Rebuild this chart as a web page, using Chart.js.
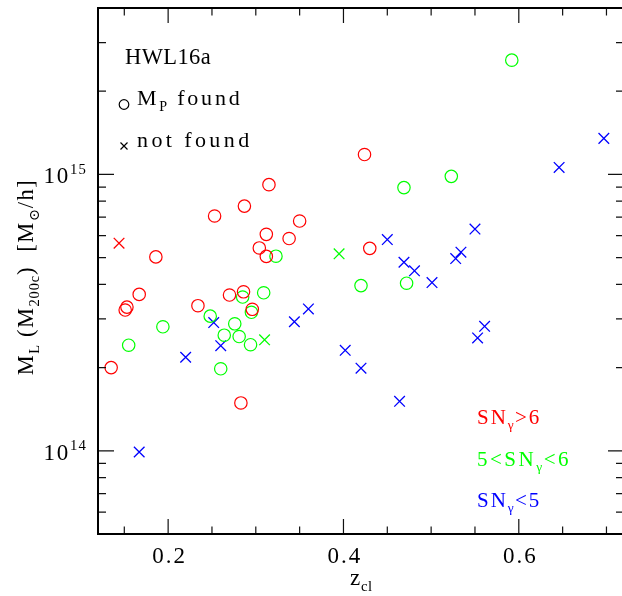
<!DOCTYPE html>
<html>
<head>
<meta charset="utf-8">
<script src="https://cdn.jsdelivr.net/npm/chart.js@4.4.1/dist/chart.umd.min.js"></script>
<style>
  html, body { margin: 0; padding: 0; overflow: hidden; background: #fff; }
  canvas { display: block; }
</style>
</head>
<body>
<canvas id="c" width="624" height="596"></canvas>
<script>
// Cluster redshift z_cl and lensing mass M_L (M_200c, in M_sun/h),
// split by shear S/N class and by whether a peak mass M_P was found.
const zRedFound = [0.135, 0.151, 0.153, 0.167, 0.186, 0.234, 0.253, 0.270, 0.283, 0.287,
                   0.286, 0.296, 0.304, 0.312, 0.312, 0.315, 0.338, 0.350, 0.424, 0.430];
const mRedFound = [2.00e14, 3.23e14, 3.31e14, 3.68e14, 5.03e14, 3.35e14, 7.07e14, 3.66e14, 1.49e14, 7.68e14,
                   3.76e14, 3.25e14, 5.42e14, 6.07e14, 5.05e14, 9.18e14, 5.86e14, 6.78e14, 1.18e15, 5.40e14];
const zRedMissed = [0.144];
const mRedMissed = [5.64e14];

const zGreenFound = [0.155, 0.194, 0.248, 0.264, 0.276, 0.281, 0.294, 0.260, 0.285, 0.295,
                     0.309, 0.323, 0.420, 0.472, 0.469, 0.523, 0.592];
const mGreenFound = [2.41e14, 2.81e14, 3.07e14, 2.62e14, 2.88e14, 2.59e14, 2.42e14, 1.98e14, 3.60e14, 3.17e14,
                     3.73e14, 5.06e14, 3.96e14, 4.04e14, 8.96e14, 9.84e14, 2.59e15];
const zGreenMissed = [0.310, 0.395];
const mGreenMissed = [2.52e14, 5.16e14];

const zBlueMissed = [0.167, 0.220, 0.252, 0.260, 0.344, 0.360, 0.402, 0.420, 0.450, 0.464,
                     0.469, 0.481, 0.501, 0.528, 0.534, 0.550, 0.553, 0.561, 0.646, 0.697];
const mBlueMissed = [9.9e13, 2.18e14, 2.91e14, 2.40e14, 2.93e14, 3.26e14, 2.31e14, 1.99e14, 5.81e14, 1.51e14,
                     4.81e14, 4.48e14, 4.06e14, 4.96e14, 5.23e14, 6.34e14, 2.56e14, 2.82e14, 1.06e15, 1.35e15];

// Axis ticks and their labels
const xMajorTicks = [0.2, 0.4, 0.6];
const xTickLabels = ['0.2', '0.4', '0.6'];
const xMinorTicks = [0.15, 0.25, 0.3, 0.35, 0.45, 0.5, 0.55, 0.65, 0.7];
const yMajorTicks = [1e14, 1e15];
const yTickExponents = ['14', '15'];
const yMinorTicks = [6e13, 7e13, 8e13, 9e13, 2e14, 3e14, 4e14, 5e14, 6e14, 7e14, 8e14, 9e14, 2e15, 3e15];

const RED = '#ff0000', GREEN = '#00ff00', BLUE = '#0000ff';
const FONT = '"Liberation Serif", "DejaVu Serif", serif';

function pts(xs, ys) { return xs.map((x, i) => ({ x: x, y: ys[i] })); }

function circleSet(xs, ys, color) {
  return { data: pts(xs, ys), pointStyle: 'circle', pointRadius: 6.2, pointBorderWidth: 1.2,
           borderColor: color, backgroundColor: 'rgba(0,0,0,0)', showLine: false };
}
function crossSet(xs, ys, color) {
  return { data: pts(xs, ys), pointStyle: 'crossRot', pointRadius: 7.5, pointBorderWidth: 1.3,
           borderColor: color, backgroundColor: color, showLine: false };
}

// Draws a run of text pieces: mode 0 = normal, -1 = subscript, 1 = superscript
function drawRich(ctx, parts, x, y, size, align, spacing) {
  const items = parts.map(([t, m]) => {
    const s = m ? size * 0.64 : size;
    const sp = m ? spacing * 0.6 : spacing;
    ctx.font = s + 'px ' + FONT;
    ctx.letterSpacing = sp + 'px';
    return { t: t, m: m, s: s, sp: sp, w: ctx.measureText(t).width };
  });
  const total = items.reduce((a, b) => a + b.w, 0);
  let cx = align === 'center' ? x - total / 2 : (align === 'right' ? x - total : x);
  ctx.textAlign = 'left';
  ctx.textBaseline = 'alphabetic';
  for (const it of items) {
    ctx.font = it.s + 'px ' + FONT;
    ctx.letterSpacing = it.sp + 'px';
    const dy = it.m < 0 ? size * 0.28 : (it.m > 0 ? -size * 0.41 : 0);
    ctx.fillText(it.t, cx, y + dy);
    cx += it.w;
  }
  ctx.letterSpacing = '0px';
}

const framePlugin = {
  id: 'frame',
  afterDraw(chart) {
    const ctx = chart.ctx;
    const a = chart.chartArea;
    const xs = chart.scales.x, ys = chart.scales.y;
    ctx.save();

    // tick marks on all four sides
    ctx.strokeStyle = '#111';
    ctx.lineWidth = 1.2;
    ctx.beginPath();
    const xTick = (v, len) => {
      const p = xs.getPixelForValue(v);
      ctx.moveTo(p, a.bottom); ctx.lineTo(p, a.bottom - len);
      ctx.moveTo(p, a.top); ctx.lineTo(p, a.top + len);
    };
    const yTick = (v, len) => {
      const p = ys.getPixelForValue(v);
      ctx.moveTo(a.left, p); ctx.lineTo(a.left + len, p);
      ctx.moveTo(a.right, p); ctx.lineTo(a.right - len, p);
    };
    xMajorTicks.forEach(v => xTick(v, 15));
    xMinorTicks.forEach(v => xTick(v, 7.5));
    yMajorTicks.forEach(v => yTick(v, 16));
    yMinorTicks.forEach(v => yTick(v, 8));
    ctx.stroke();

    // frame
    ctx.strokeStyle = '#000';
    ctx.lineWidth = 2;
    ctx.strokeRect(a.left, a.top, a.right - a.left, a.bottom - a.top);

    ctx.fillStyle = '#000';
    // tick labels
    xMajorTicks.forEach((v, i) => {
      drawRich(ctx, [[xTickLabels[i], 0]], xs.getPixelForValue(v) + 1.5, 562.5, 23, 'center', 2);
    });
    yMajorTicks.forEach((v, i) => {
      drawRich(ctx, [['10', 0], [yTickExponents[i], 1]], 87, ys.getPixelForValue(v) + 8.8, 23, 'right', 1.8);
    });

    // axis titles
    drawRich(ctx, [['z', 0], ['cl', -1]], 350, 585, 23, 'left', 0.8);
    ctx.save();
    ctx.translate(32.5, 277);
    ctx.rotate(-Math.PI / 2);
    drawRich(ctx, [['M', 0], ['L', -1], [' (M', 0], ['200c', -1], [')  [M', 0], ['\u2299', -1], ['/h]', 0]],
             0, 0, 22.5, 'center', 1.5);
    ctx.restore();

    // key: sample name and marker meaning
    drawRich(ctx, [['HWL16a', 0]], 125, 63.5, 22.5, 'left', 0.4);
    ctx.strokeStyle = '#000';
    ctx.lineWidth = 1.2;
    ctx.beginPath();
    ctx.arc(124, 104.5, 4.8, 0, Math.PI * 2);
    ctx.stroke();
    ctx.beginPath();
    ctx.moveTo(120.5, 142.5); ctx.lineTo(127.5, 149.5);
    ctx.moveTo(127.5, 142.5); ctx.lineTo(120.5, 149.5);
    ctx.stroke();
    drawRich(ctx, [['M', 0], ['P', -1], [' found', 0]], 137, 105, 22, 'left', 2.8);
    drawRich(ctx, [['not found', 0]], 137, 146.5, 22, 'left', 3.4);

    // key: S/N classes
    ctx.fillStyle = RED;
    drawRich(ctx, [['SN', 0], ['\u03b3', -1], ['>6', 0]], 477, 423.5, 21, 'left', 2);
    ctx.fillStyle = GREEN;
    drawRich(ctx, [['5<SN', 0], ['\u03b3', -1], ['<6', 0]], 477, 465.5, 21, 'left', 2.5);
    ctx.fillStyle = BLUE;
    drawRich(ctx, [['SN', 0], ['\u03b3', -1], ['<5', 0]], 477, 506.5, 21, 'left', 2);

    ctx.restore();
  }
};

new Chart(document.getElementById('c'), {
  type: 'scatter',
  data: {
    datasets: [
      circleSet(zRedFound, mRedFound, RED),
      crossSet(zRedMissed, mRedMissed, RED),
      circleSet(zGreenFound, mGreenFound, GREEN),
      crossSet(zGreenMissed, mGreenMissed, GREEN),
      crossSet(zBlueMissed, mBlueMissed, BLUE)
    ]
  },
  options: {
    responsive: false,
    animation: false,
    devicePixelRatio: 1,
    layout: { autoPadding: false, padding: { left: 98, right: 0, top: 8, bottom: 62 } },
    plugins: { legend: { display: false }, tooltip: { enabled: false } },
    scales: {
      x: { type: 'linear', min: 0.12, max: 0.72, display: false },
      y: { type: 'logarithmic', min: 5e13, max: 4e15, display: false }
    }
  },
  plugins: [framePlugin]
});
</script>
</body>
</html>
